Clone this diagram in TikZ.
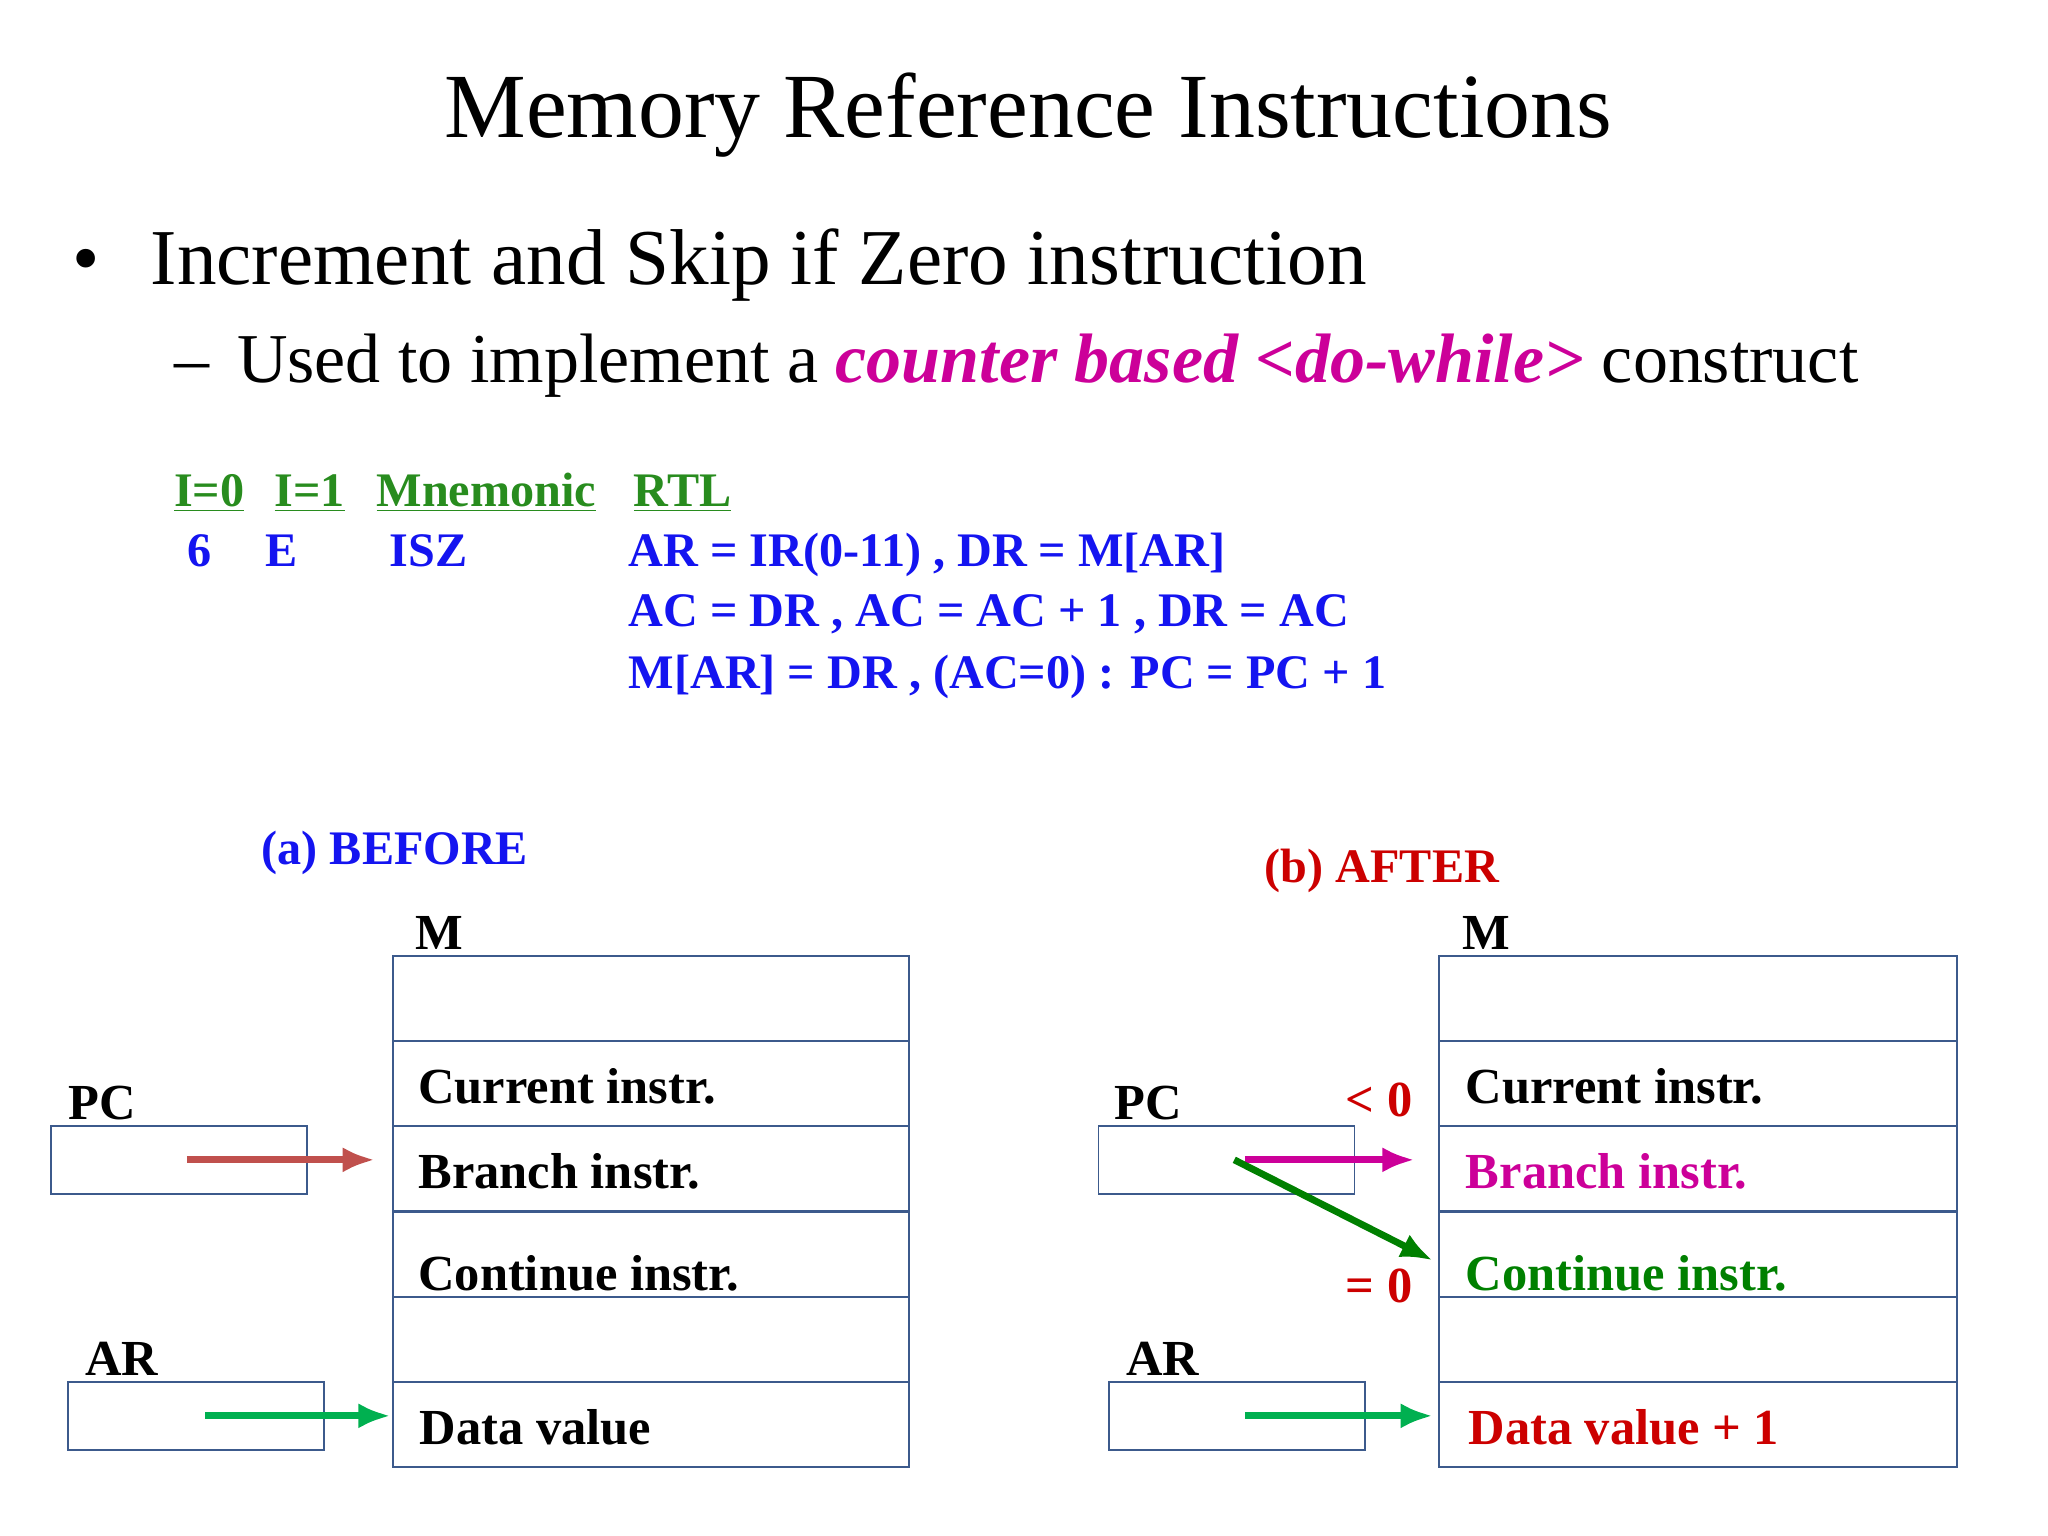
\documentclass[tikz,border=0pt]{standalone}
\usepackage{fontspec}
\setmainfont{Liberation Serif}
\usetikzlibrary{arrows.meta}
\definecolor{tblue}{RGB}{20,20,240}
\definecolor{tgreen}{RGB}{40,140,30}
\definecolor{tred}{RGB}{204,0,0}
\definecolor{tmag}{RGB}{204,0,153}
\definecolor{bred}{RGB}{192,80,77}
\definecolor{lgreen}{RGB}{0,176,80}
\definecolor{dgreen}{RGB}{0,128,0}
\definecolor{boxc}{RGB}{60,90,140}
\begin{document}
\begin{tikzpicture}[x=0.02cm,y=-0.02cm,
 t/.style={anchor=base west,inner sep=0pt},
 tb/.style={t,font=\fontsize{22}{26}\selectfont\bfseries},
 tr/.style={t,font=\fontsize{21}{25}\selectfont\bfseries},
 reg/.style={draw=boxc,line width=0.8pt},
 arr/.style={line width=3pt,-{Latex[length=14pt,width=11pt]}}]
\useasboundingbox (0,0) rectangle (1568,1176);
\node[t,font=\fontsize{40}{46}\selectfont] (title) at (340,105) {Memory Reference Instructions};
\node[t,font=\fontsize{34}{40}\selectfont] (bul) at (55,218) {\textbullet};
\node[t,font=\fontsize{34.5}{40}\selectfont] (l1) at (115,218) {Increment and Skip if Zero instruction};
\node[t,font=\fontsize{30.5}{36}\selectfont] (l2) at (133,293) {–\hspace{0.4em}Used to implement a {\color{tmag}\bfseries\itshape counter based <do-while>} construct};
\begin{scope}[every node/.style={tr,text=tgreen}]
\node (h1) at (133,388) {\underline{I=0}};
\node (h2) at (210,388) {\underline{I=1}};
\node (h3) at (288,388) {\underline{Mnemonic}};
\node (h4) at (485,388) {\underline{RTL}};
\end{scope}
\begin{scope}[every node/.style={tr,text=tblue}]
\node (c1) at (143,434) {6};
\node (c2) at (203,434) {E};
\node (c3) at (298,434) {ISZ};
\node (r1) at (481,434) {AR = IR(0-11) , DR = M[AR]};
\node (r2) at (481,480) {AC = DR , AC = AC + 1 , DR = AC};
\node (r3) at (481,527) {M[AR] = DR , (AC=0) : PC = PC + 1};
\node (bef) at (200,662) {(a) BEFORE};
\end{scope}
\node[tr,text=tred] (aft) at (968,676) {(b) AFTER};
\foreach \y in {732,797,862,928,993,1058}{\draw[reg] (301,\y) rectangle (696,\y+65);}
\foreach \y in {732,797,862,928,993,1058}{\draw[reg] (1102,\y) rectangle (1498,\y+65);}
\node[tb] (mL) at (318,727) {M};
\node[tb] (mR) at (1119,727) {M};
\node[tb] (pcL) at (52,857) {PC};
\node[tb] (arL) at (65,1053) {AR};
\node[tb] (pcR) at (853,857) {PC};
\node[tb] (arR) at (862,1053) {AR};
\draw[reg] (39,862) rectangle (235,914);
\draw[reg] (52,1058) rectangle (248,1110);
\draw[reg] (841,862) rectangle (1037,914);
\draw[reg] (849,1058) rectangle (1045,1110);
\node[tb] (cL) at (320,845) {Current instr.};
\node[tb] (bL) at (320,910) {Branch instr.};
\node[tb] (kL) at (320,988) {Continue instr.};
\node[tb] (dL) at (321,1106) {Data value};
\node[tb] (cR) at (1122,845) {Current instr.};
\node[tb,text=tmag] (bR) at (1122,910) {Branch instr.};
\node[tb,text=dgreen] (kR) at (1122,988) {Continue instr.};
\node[tb,text=tred] (dR) at (1124,1106) {Data value + 1};
\node[tb,text=tred] (lt) at (1030,855) {< 0};
\node[tb,text=tred] (eq) at (1030,997) {= 0};
\coordinate (p1) at (143,888); \coordinate (p2) at (287,888);
\coordinate (a1) at (157,1084); \coordinate (a2) at (299,1084);
\coordinate (q1) at (953,888); \coordinate (q2) at (1083,888);
\coordinate (g1) at (945,888); \coordinate (g2) at (1097,965);
\coordinate (b1) at (953,1084); \coordinate (b2) at (1097,1084);
\draw[arr,bred] (p1) -- (p2);
\draw[arr,lgreen] (a1) -- (a2);
\draw[arr,tmag] (q1) -- (q2);
\draw[arr,dgreen] (g1) -- (g2);
\draw[arr,lgreen] (b1) -- (b2);
\end{tikzpicture}
\end{document}
